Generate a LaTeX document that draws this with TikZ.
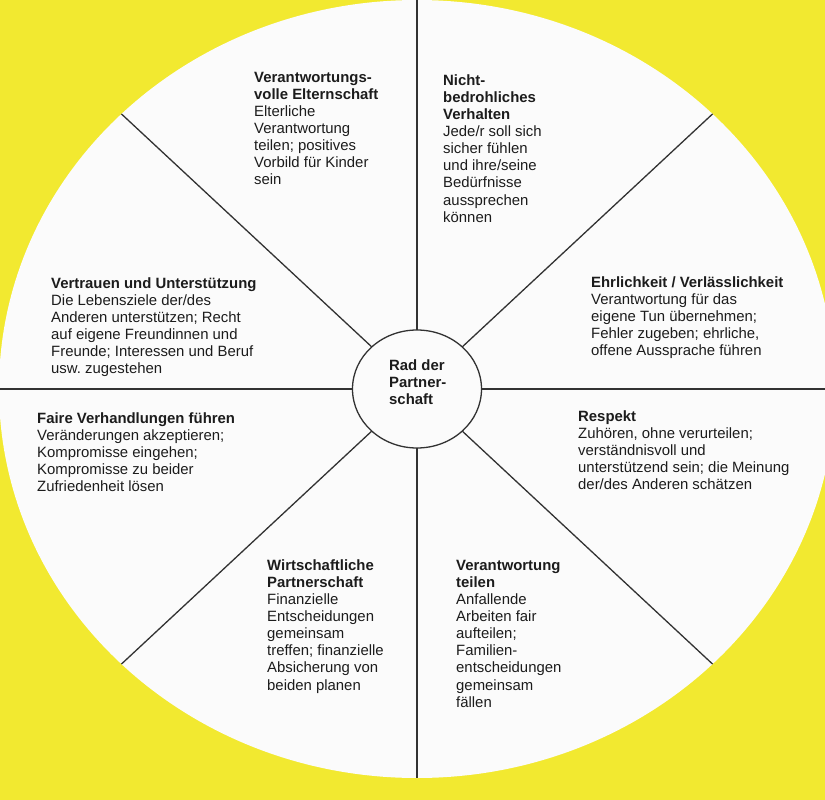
\documentclass[tikz,border=0pt]{standalone}
\usepackage{fontspec}
\setmainfont{Liberation Sans}
\usetikzlibrary{shapes.geometric}
\definecolor{bgyellow}{RGB}{242,233,48}
\definecolor{wheelwhite}{RGB}{251,251,251}
\definecolor{ink}{RGB}{28,28,28}
\definecolor{spokegray}{RGB}{50,50,50}
\frenchspacing
\begin{document}
\begin{tikzpicture}[x=1pt,y=-1pt,
  txt/.style={anchor=base west, inner sep=0pt, align=left, text=ink,
    font=\fontsize{14.9}{17.15}\selectfont},
  spoke/.style={draw=spokegray, line width=1.3pt},
  hub/.style={ellipse, draw=spokegray, line width=1.3pt, fill=wheelwhite,
    minimum width=129pt, minimum height=118pt, inner sep=0pt}]
\useasboundingbox (0,0) rectangle (825,800);
\fill[bgyellow] (0,0) rectangle (825,800);
\coordinate (c) at (417,389);
\begin{scope}
  \clip (0,0) rectangle (825,800);
  \fill[wheelwhite] (c) ellipse [x radius=418pt, y radius=389pt];
  \foreach \a in {0,45,...,315}
    \draw[spoke] ({417+418*cos(\a)},{389+389*sin(\a)}) -- (c);
\end{scope}
\node[hub] (hub) at (c) {};
% base anchor of a multi-line node = baseline of its last line
\node[txt] (hubtext) at (389,404.3) {\textbf{Rad der}\\\textbf{Partner-}\\\textbf{schaft}};

\node[txt] (eltern) at (254,184.9) {\textbf{Verantwortungs-}\\\textbf{volle Elternschaft}\\Elterliche\\Verantwortung\\teilen; positives\\Vorbild für Kinder\\sein};
\node[txt] (nicht) at (443,222.2) {\textbf{Nicht-}\\\textbf{bedrohliches}\\\textbf{Verhalten}\\Jede/r soll sich\\sicher fühlen\\und ihre/seine\\Bedürfnisse\\aussprechen\\können};
\node[txt] (ehrlich) at (591,355.6) {\textbf{Ehrlichkeit / Verlässlichkeit}\\Verantwortung für das\\eigene Tun übernehmen;\\Fehler zugeben; ehrliche,\\offene Aussprache führen};
\node[txt] (respekt) at (578,489.6) {\textbf{Respekt}\\Zuhören, ohne verurteilen;\\verständnisvoll und\\unterstützend sein; die Meinung\\der/des Anderen schätzen};
\node[txt] (teilen) at (456,707.2) {\textbf{Verantwortung}\\\textbf{teilen}\\Anfallende\\Arbeiten fair\\aufteilen;\\Familien-\\entscheidungen\\gemeinsam\\fällen};
\node[txt] (wirtschaft) at (267,690.05) {\textbf{Wirtschaftliche}\\\textbf{Partnerschaft}\\Finanzielle\\Entscheidungen\\gemeinsam\\treffen; finanzielle\\Absicherung von\\beiden planen};
\node[txt] (faire) at (37,491.6) {\textbf{Faire Verhandlungen führen}\\Veränderungen akzeptieren;\\Kompromisse eingehen;\\Kompromisse zu beider\\Zufriedenheit lösen};
\node[txt] (vertrauen) at (51,373.75) {\textbf{Vertrauen und Unterstützung}\\Die Lebensziele der/des\\Anderen unterstützen; Recht\\auf eigene Freundinnen und\\Freunde; Interessen und Beruf\\usw. zugestehen};
\end{tikzpicture}
\end{document}
